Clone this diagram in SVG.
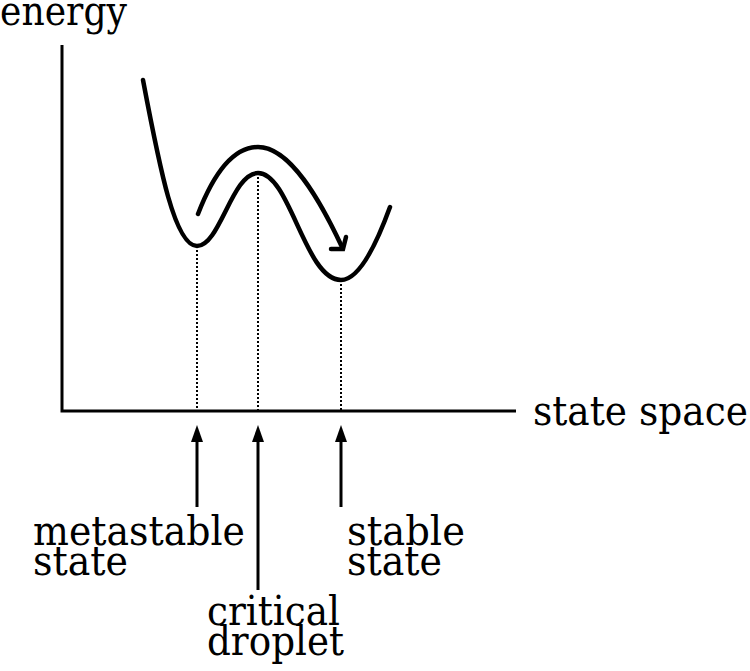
<svg xmlns="http://www.w3.org/2000/svg" width="750" height="671" viewBox="0 0 750 671">
<defs>
<style>
text{font-family:'DejaVu Serif','Liberation Serif',serif;font-size:41px;fill:#000}
.ax{stroke:#000;stroke-width:3;fill:none}
.cv{stroke:#000;stroke-width:4.5;fill:none;stroke-linecap:round}
.dot{stroke:#000;stroke-width:2;stroke-dasharray:2 2;fill:none}
.ar{stroke:#000;stroke-width:3;fill:none}
.hd{fill:#000;stroke:none}
</style>
</defs>
<rect width="750" height="671" fill="#fff"/>
<g id="axes">
<path class="ax" d="M62,45 V411 H516"/>
<text x="0" y="25" textLength="127" lengthAdjust="spacingAndGlyphs">energy</text>
<text x="533" y="425" textLength="215" lengthAdjust="spacingAndGlyphs">state space</text>
</g>
<g id="curve">
<path class="cv" d="M143,80 C160,170 175,246 197,246 C220,246 232,173 258,173 C290,173 305,280 341,280 C360,280 378,240 390,207"/>
</g>
<g id="connectors">
<path class="cv" d="M198,214 C215,170 235,147 258,147 C290,147 320,200 342,247"/>
<path class="cv" d="M331,249 H343 L346,237" stroke-linecap="butt" stroke-linejoin="miter"/>
<line class="dot" x1="197" y1="250" x2="197" y2="410"/>
<line class="dot" x1="258" y1="177" x2="258" y2="410"/>
<line class="dot" x1="341" y1="284" x2="341" y2="410"/>
<line class="ar" x1="197" y1="507" x2="197" y2="438"/>
<polygon class="hd" points="197,425 191,442 203,442"/>
<line class="ar" x1="258" y1="590" x2="258" y2="438"/>
<polygon class="hd" points="258,425 252,442 264,442"/>
<line class="ar" x1="341" y1="507" x2="341" y2="438"/>
<polygon class="hd" points="341,425 335,442 347,442"/>
</g>
<g id="metastable">
<text x="33" y="545" textLength="212" lengthAdjust="spacingAndGlyphs">metastable</text>
<text x="33" y="575" textLength="95" lengthAdjust="spacingAndGlyphs">state</text>
</g>
<g id="critical">
<text x="207" y="625" textLength="133" lengthAdjust="spacingAndGlyphs">critical</text>
<text x="207" y="655" textLength="137" lengthAdjust="spacingAndGlyphs">droplet</text>
</g>
<g id="stable">
<text x="347" y="545" textLength="118" lengthAdjust="spacingAndGlyphs">stable</text>
<text x="347" y="575" textLength="95" lengthAdjust="spacingAndGlyphs">state</text>
</g>
</svg>
